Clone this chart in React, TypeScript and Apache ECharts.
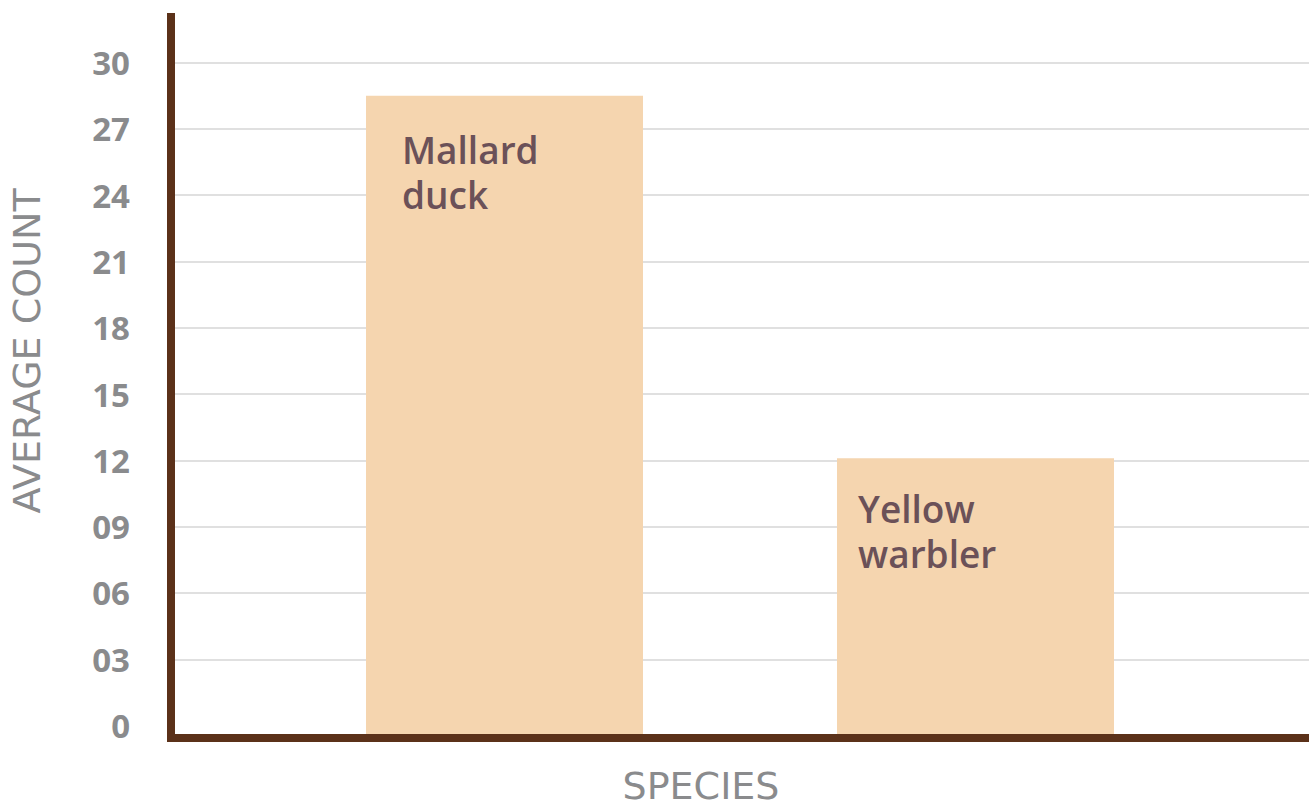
import React, { useEffect, useRef } from "react";
import * as echarts from "echarts";

const categories = ["Mallard duck", "Yellow warbler"];
const averageCounts = [28.5, 12.1];
const tickValues = [3, 6, 9, 12, 15, 18, 21, 24, 27, 30];
const labelValues = [0, 3, 6, 9, 12, 15, 18, 21, 24, 27, 30];
const yAxisName = "AVERAGE COUNT";
const xAxisName = "SPECIES";

const Y_MIN = -0.561;
const Y_MAX = 32.06;
const BAR_BASE = -0.38;
const FONT = "'Open Sans', 'DejaVu Sans', sans-serif";
const NAME_FONT = "'DejaVu Sans', 'Open Sans', sans-serif";
const GRAY = "#8a8b8d";
const BROWN = "#5b3119";
const LABEL_COLOR = "#6b5158";

export default function App() {
  const ref = useRef<HTMLDivElement>(null);

  useEffect(() => {
    if (!ref.current) return;
    const chart = echarts.init(ref.current, undefined, { renderer: "svg" });
    const labelOffsets = [
      [36, 31],
      [21, 28],
    ];
    chart.setOption({
      animation: false,
      backgroundColor: "#ffffff",
      grid: [
        { left: 171, right: 0, top: 17, bottom: 68 },
        { left: 269, right: 98, top: 17, bottom: 68 },
      ],
      xAxis: [
        {
          type: "value",
          gridIndex: 0,
          min: 0,
          max: 1,
          axisLine: {
            show: true,
            onZero: false,
            lineStyle: { color: BROWN, width: 8, cap: "square" },
          },
          axisTick: { show: false },
          axisLabel: { show: false },
          splitLine: { show: false },
        },
        {
          type: "category",
          gridIndex: 1,
          data: categories,
          axisLine: { show: false },
          axisTick: { show: false },
          axisLabel: { show: false },
          splitLine: { show: false },
        },
      ],
      yAxis: [
        {
          type: "value",
          gridIndex: 0,
          min: Y_MIN,
          max: Y_MAX,
          axisLine: {
            show: true,
            onZero: false,
            lineStyle: { color: BROWN, width: 8, cap: "square" },
          },
          axisTick: { show: false, customValues: tickValues },
          axisLabel: {
            customValues: labelValues,
            margin: 41,
            color: GRAY,
            fontFamily: FONT,
            fontWeight: 700,
            fontSize: 33,
            formatter: (v: number) => (v === 0 ? "0" : String(v).padStart(2, "0")),
          },
          splitLine: { show: true, lineStyle: { color: "#e0e0e0", width: 2 } },
        },
        {
          type: "value",
          gridIndex: 1,
          min: Y_MIN,
          max: Y_MAX,
          startValue: BAR_BASE,
          show: false,
          splitLine: { show: false },
        },
      ],
      series: [
        {
          type: "bar",
          xAxisIndex: 1,
          yAxisIndex: 1,
          barWidth: 277,
          itemStyle: { color: "#f5d5af" },
          data: averageCounts.map((v, i) => ({
            value: v,
            label: { position: labelOffsets[i] },
          })),
          label: {
            show: true,
            align: "left",
            verticalAlign: "top",
            formatter: (p: any) => String(p.name).replace(" ", "\n"),
            color: LABEL_COLOR,
            fontFamily: FONT,
            fontWeight: 600,
            fontSize: 37,
            lineHeight: 45,
          },
        },
      ],
      graphic: [
        {
          type: "text",
          x: 27,
          y: 351,
          rotation: Math.PI / 2,
          style: {
            text: yAxisName,
            fill: GRAY,
            font: `400 38px ${NAME_FONT}`,
            align: "center",
            verticalAlign: "middle",
          },
        },
        {
          type: "text",
          x: 701,
          y: 786,
          style: {
            text: xAxisName,
            fill: GRAY,
            font: `400 38px ${NAME_FONT}`,
            align: "center",
            verticalAlign: "middle",
          },
        },
      ],
    });
    return () => chart.dispose();
  }, []);

  return (
    <div
      ref={ref}
      style={{ position: "fixed", left: 0, top: 0, width: 1309, height: 806 }}
    />
  );
}
